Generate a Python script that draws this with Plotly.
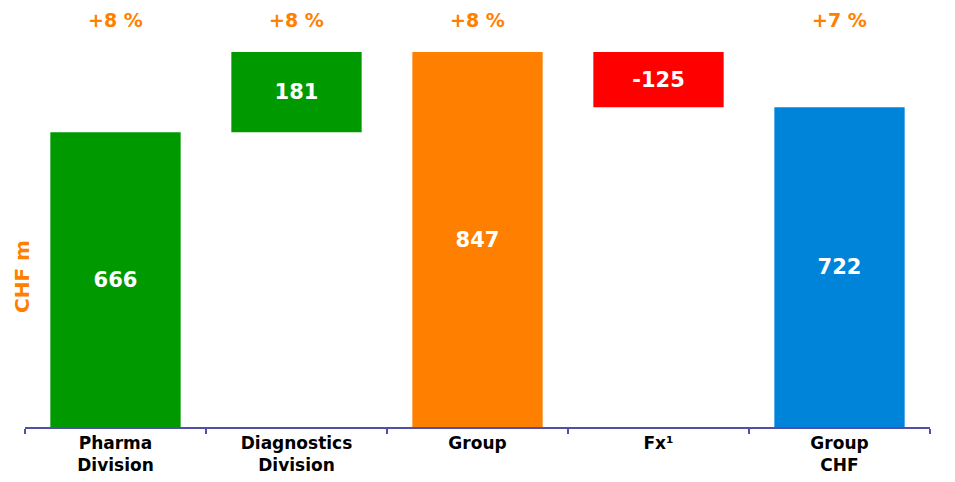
import plotly.graph_objects as go

categories = ["Pharma<br>Division", "Diagnostics<br>Division", "Group", "Fx¹", "Group<br>CHF"]
values = [666, 181, 847, -125, 722]
is_total = [False, False, True, False, True]
growth = ["+8 %", "+8 %", "+8 %", "", "+7 %"]
colors = ["#009900", "#009900", "#FF8000", "#FF0000", "#0084DA"]

FONT = "DejaVu Sans, Arial, sans-serif"

# compute floating bar bases (waterfall logic)
bases, heights = [], []
running = 0
for v, t in zip(values, is_total):
    if t:
        bases.append(0)
        heights.append(v)
        running = v
    else:
        if v >= 0:
            bases.append(running)
            heights.append(v)
        else:
            bases.append(running + v)
            heights.append(-v)
        running += v

fig = go.Figure()
fig.add_trace(go.Bar(
    x=categories, y=heights, base=bases,
    marker=dict(color=colors, line=dict(width=0)),
    text=[str(v) for v in values], textposition="inside",
    insidetextanchor="middle",
    textfont=dict(family=FONT, size=21, color="white", weight="bold"),
    hoverinfo="skip",
))

for c, g in zip(categories, growth):
    if g:
        fig.add_annotation(x=c, y=1, xref="x", yref="paper", yshift=32, yanchor="middle",
                           text=g, showarrow=False,
                           font=dict(family=FONT, size=19, color="#FF8000", weight="bold"))

fig.add_annotation(x=0, y=0.4, xref="paper", yref="paper", xshift=-3, xanchor="center", yanchor="middle",
                   text="CHF m", textangle=-90, showarrow=False,
                   font=dict(family=FONT, size=20, color="#FF8000", weight="bold"))

fig.update_layout(
    width=955, height=482,
    margin=dict(l=25, r=25, t=52, b=55, autoexpand=False),
    paper_bgcolor="white", plot_bgcolor="white",
    bargap=0.28, showlegend=False,
    xaxis=dict(showline=True, linecolor="#5050A8", linewidth=1.5, ticks="outside", tickson="boundaries",
               ticklen=5, tickcolor="#5050A8", tickwidth=1.5, automargin=False,
               tickfont=dict(family=FONT, size=17, color="black", weight="bold")),
    yaxis=dict(range=[0, 847], visible=False, automargin=False),
)

fig.write_html("out.html")
